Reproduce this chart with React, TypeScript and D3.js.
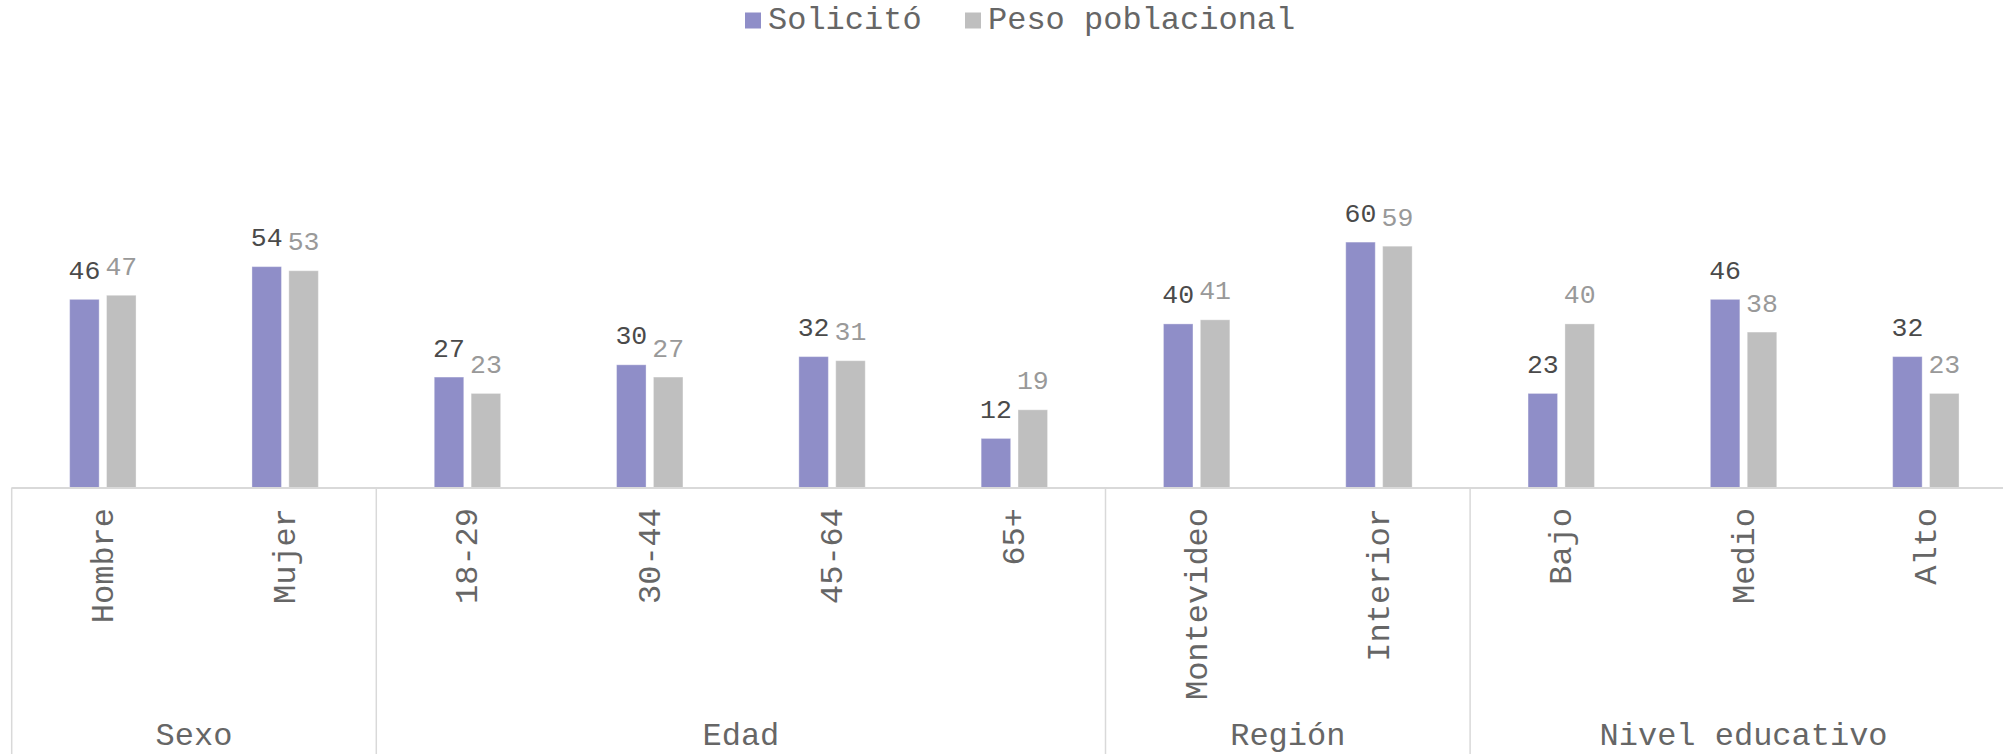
import React from "react";
import * as d3 from "d3";

const categories = ["Hombre", "Mujer", "18-29", "30-44", "45-64", "65+", "Montevideo", "Interior", "Bajo", "Medio", "Alto"];
const solicito = [46, 54, 27, 30, 32, 12, 40, 60, 23, 46, 32];
const pesoPoblacional = [47, 53, 23, 27, 31, 19, 41, 59, 40, 38, 23];
const groupNames = ["Sexo", "Edad", "Región", "Nivel educativo"];
const groupSizes = [2, 4, 2, 3];
const seriesNames = ["Solicitó", "Peso poblacional"];

const W = 2003;
const H = 754;
const FONT = "'Liberation Mono', 'Courier New', monospace";
const COLORS = ["#8F8EC8", "#BFBFBF"];
const LABEL_COLORS = ["#4a4a4a", "#999999"];
const TEXT_COLOR = "#666666";
const AXIS_COLOR = "#D9D9D9";

export default function App() {
  const left = 11.7;
  const step = 182.3;
  const baseY = 487.5;
  const x = d3.scaleBand<string>().domain(categories).range([left, left + step * categories.length]).padding(0);
  const inner = d3.scaleBand<number>().domain([0, 1]).range([-33.2, 33.2]).paddingInner(0.2).paddingOuter(0);
  const y = d3.scaleLinear().domain([0, 60]).range([baseY, baseY - 245.4]);

  const series = [solicito, pesoPoblacional];

  const bounds: number[] = [left];
  let idx = 0;
  groupSizes.forEach((s) => {
    idx += s;
    bounds.push(left + step * idx);
  });

  return (
    <svg
      width={W}
      height={H}
      style={{ position: "absolute", left: 0, top: 0, overflow: "hidden", background: "#fff" }}
      fontFamily={FONT}
    >
      <rect x={0} y={0} width={W} height={H} fill="#fff" />
      {/* Legend */}
      <g>
        <rect x={745} y={12.5} width={16} height={16} fill={COLORS[0]} />
        <text x={768} y={29} fontSize={32} fill={TEXT_COLOR}>{seriesNames[0]}</text>
        <rect x={965} y={12.5} width={16} height={16} fill={COLORS[1]} />
        <text x={988} y={29} fontSize={32} fill={TEXT_COLOR}>{seriesNames[1]}</text>
      </g>

      {/* Bars */}
      {categories.map((c, i) => {
        const cx = (x(c) as number) + x.bandwidth() / 2;
        return (
          <g key={c}>
            {series.map((vals, s) => {
              const bx = cx + (inner(s) as number);
              const v = vals[i];
              return (
                <g key={s}>
                  <rect
                    x={bx}
                    y={y(v)}
                    width={inner.bandwidth()}
                    height={baseY - y(v)}
                    fill={COLORS[s]}
                    stroke="#ffffff"
                    strokeOpacity={0.35}
                    strokeWidth={1}
                  />
                  <text
                    x={bx + inner.bandwidth() / 2}
                    y={y(v) - 20.5}
                    fontSize={26.5}
                    textAnchor="middle"
                    fill={LABEL_COLORS[s]}
                  >
                    {v}
                  </text>
                </g>
              );
            })}
            <text
              transform={`translate(${cx},508) rotate(-90)`}
              dy={10}
              fontSize={32}
              textAnchor="end"
              fill={TEXT_COLOR}
            >
              {c}
            </text>
          </g>
        );
      })}

      {/* Axis line */}
      <line x1={left} x2={W + 20} y1={baseY + 0.5} y2={baseY + 0.5} stroke={AXIS_COLOR} strokeWidth={2} />
      {/* Group separators */}
      {bounds.map((b, i) => (
        <line key={i} x1={b} x2={b} y1={baseY} y2={H} stroke={AXIS_COLOR} strokeWidth={1.5} />
      ))}
      {/* Group labels */}
      {groupNames.map((g, i) => (
        <text
          key={g}
          x={(bounds[i] + bounds[i + 1]) / 2}
          y={745}
          fontSize={32}
          textAnchor="middle"
          fill={TEXT_COLOR}
        >
          {g}
        </text>
      ))}
    </svg>
  );
}
